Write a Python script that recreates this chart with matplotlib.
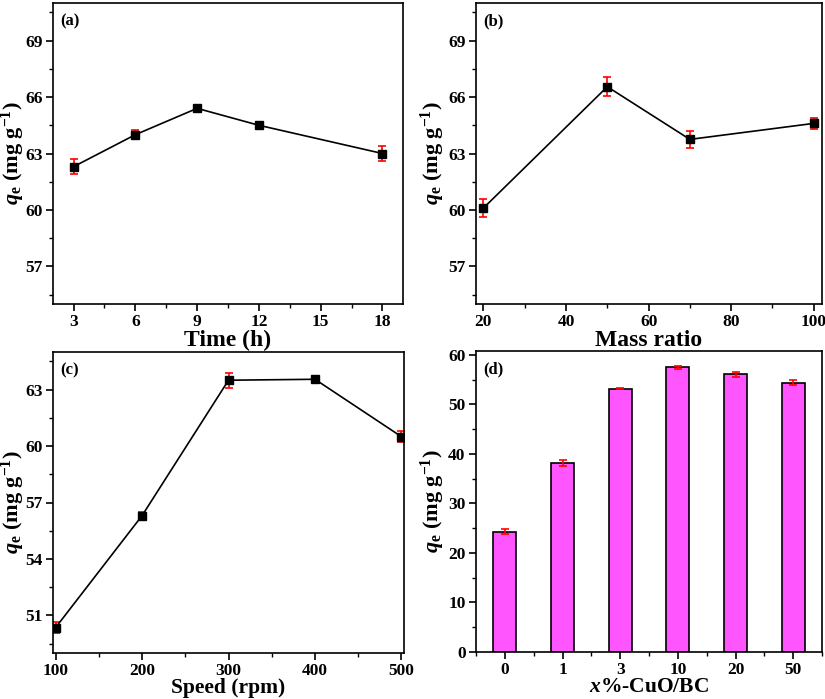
import matplotlib
matplotlib.use("Agg")
import matplotlib.pyplot as plt
from matplotlib.ticker import MultipleLocator

plt.rcParams['font.family'] = 'Liberation Serif'
plt.rcParams['font.weight'] = 'bold'
plt.rcParams['axes.labelweight'] = 'bold'
plt.rcParams['mathtext.fontset'] = 'custom'
plt.rcParams['mathtext.rm'] = 'Liberation Serif:bold'
plt.rcParams['mathtext.it'] = 'Liberation Serif:italic:bold'
plt.rcParams['mathtext.bf'] = 'Liberation Serif:bold'

# (a) contact time
time_h = [3, 6, 9, 12, 18]
qe_time = [62.3, 64.0, 65.4, 64.5, 63.0]
err_time = [0.4, 0.25, 0.2, 0.1, 0.4]

# (b) mass ratio
mass_ratio = [20, 50, 70, 100]
qe_mass = [60.1, 66.55, 63.75, 64.6]
err_mass = [0.5, 0.5, 0.45, 0.3]

# (c) stirring speed
speed_rpm = [100, 200, 300, 400, 500]
qe_speed = [50.35, 56.3, 63.5, 63.55, 60.5]
err_speed = [0.3, 0.2, 0.4, 0.1, 0.3]

# (d) CuO loading
cuo_labels = ['0', '1', '3', '10', '20', '50']
qe_cuo = [24.3, 38.1, 53.2, 57.5, 56.1, 54.4]
err_cuo = [0.5, 0.6, 0.15, 0.3, 0.5, 0.5]

YLABEL = r'$q_\mathrm{e}$ (mg g$^{-1}$)'

fig = plt.figure(figsize=(8.25, 6.99), dpi=100)
W, H = 825, 699


def add_ax(l, t, r, b):
    return fig.add_axes([l / W, 1 - b / H, (r - l) / W, (b - t) / H])


def style(ax, xmaj, xmin, ymaj, ymin):
    for s in ax.spines.values():
        s.set_linewidth(1.2)
    ax.xaxis.set_major_locator(MultipleLocator(xmaj))
    ax.xaxis.set_minor_locator(MultipleLocator(xmin))
    ax.yaxis.set_major_locator(MultipleLocator(ymaj))
    ax.yaxis.set_minor_locator(MultipleLocator(ymin))
    ax.tick_params(which='major', direction='out', length=5, width=1.2,
                   labelsize=12.5, pad=2.5)
    ax.tick_params(which='minor', direction='out', length=3, width=1.0)
    for lab in ax.get_xticklabels() + ax.get_yticklabels():
        lab.set_fontweight('bold')


def labels(ax, xlabel, tag, ylx, xly, xfs):
    ax.text(0.022, 0.965, tag, transform=ax.transAxes, fontsize=12,
            fontweight='bold', va='top', ha='left')
    ax.set_ylabel(YLABEL, fontsize=16, fontweight='bold')
    ax.yaxis.set_label_coords(ylx, 0.5)
    ax.set_xlabel(xlabel, fontsize=xfs, fontweight='bold')
    ax.xaxis.set_label_coords(0.5, xly)


def line_panel(ax, x, y, e):
    ax.errorbar(x, y, yerr=e, fmt='none', ecolor='red', elinewidth=1.2,
                capsize=3, capthick=1.2, zorder=2)
    ax.plot(x, y, color='black', lw=1.2, marker='s', markersize=6,
            markerfacecolor='black', markeredgecolor='black', zorder=3)


ax1 = add_ax(53, 3, 403, 304)
line_panel(ax1, time_h, qe_time, err_time)
ax1.set_xlim(2, 19)
ax1.set_ylim(55, 71)
style(ax1, 3, 1.5, 3, 1.5)
labels(ax1, 'Time (h)', '(a)', -0.075, -0.086, 17)

ax2 = add_ax(476, 3, 822, 304)
line_panel(ax2, mass_ratio, qe_mass, err_mass)
ax2.set_xlim(18.2, 102)
ax2.set_ylim(55, 71)
style(ax2, 20, 10, 3, 1.5)
labels(ax2, 'Mass ratio', '(b)', -0.085, -0.086, 17)

ax3 = add_ax(53, 352, 404, 653)
line_panel(ax3, speed_rpm, qe_speed, err_speed)
ax3.set_xlim(97, 503)
ax3.set_ylim(49, 65)
style(ax3, 100, 50, 3, 1.5)
labels(ax3, 'Speed (rpm)', '(c)', -0.075, -0.083, 15.5)

ax4 = add_ax(476, 351, 822, 652)
pos = range(len(cuo_labels))
ax4.bar(pos, qe_cuo, width=0.4, color='#FF55FF', edgecolor='black',
        linewidth=1.2, zorder=2)
ax4.errorbar(pos, qe_cuo, yerr=err_cuo, fmt='none', ecolor='red',
             elinewidth=1.2, capsize=3, capthick=1.2, zorder=3)
ax4.set_xlim(-0.5, 5.5)
ax4.set_ylim(0, 60.8)
style(ax4, 1, 0.5, 10, 5)
ax4.set_xticks(list(pos))
ax4.set_xticklabels(cuo_labels, fontweight='bold')
labels(ax4, r'$x$%-CuO/BC', '(d)', -0.085, -0.083, 15.5)

fig.savefig('out.png', dpi=100)
